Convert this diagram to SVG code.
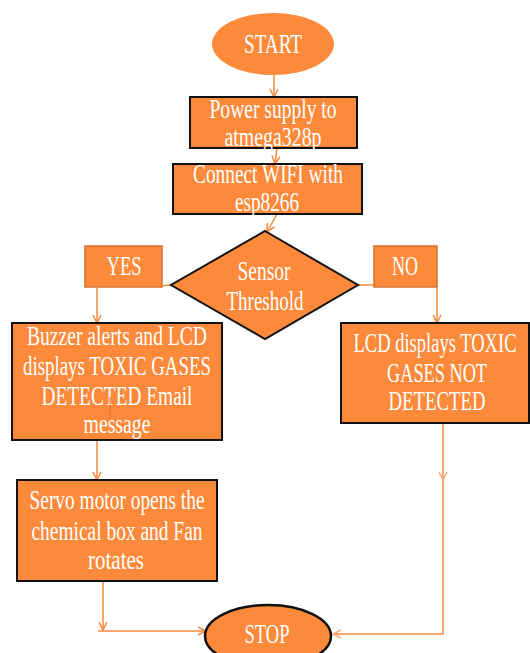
<svg xmlns="http://www.w3.org/2000/svg" width="530" height="653" viewBox="0 0 530 653">
<defs>
<style>
.box{fill:#FD8A3B;stroke:#111;stroke-width:2}
.lbl{fill:#FD8A3B;stroke:#D8702C;stroke-width:1.5}
.t{font-family:"Liberation Serif","Times New Roman",serif;font-size:27px;fill:#fff;text-anchor:middle}
.c{stroke:#F7883F;stroke-width:1.5;fill:none}
.c2{stroke:#F9A672;stroke-width:2;fill:none}
</style>
<marker id="a" viewBox="0 0 10 10" refX="9" refY="5" markerWidth="10" markerHeight="10" markerUnits="userSpaceOnUse" orient="auto">
<path d="M1,1 L9,5 L1,9" fill="none" stroke="#F7883F" stroke-width="1.5"/>
</marker>
<marker id="a2" viewBox="0 0 10 10" refX="9" refY="5" markerWidth="10" markerHeight="10" markerUnits="userSpaceOnUse" orient="auto">
<path d="M1,1 L9,5 L1,9" fill="none" stroke="#F9A672" stroke-width="1.5"/>
</marker>
</defs>
<rect width="530" height="653" fill="#fff"/>
<g id="connectors">
<line class="c" x1="274" y1="75" x2="274" y2="97" marker-end="url(#a)"/>
<line class="c" x1="277" y1="148" x2="275" y2="164" marker-end="url(#a)"/>
<line class="c" x1="277" y1="214" x2="267" y2="232" marker-end="url(#a)"/>
<line class="c" x1="171" y1="285" x2="160" y2="286"/>
<line class="c" x1="97" y1="288" x2="97" y2="323" marker-end="url(#a)"/>
<line class="c" x1="358" y1="285" x2="375" y2="285"/>
<line class="c" x1="437" y1="288" x2="437" y2="323" marker-end="url(#a)"/>
<line class="c" x1="97" y1="440" x2="97" y2="480" marker-end="url(#a)"/>
<line class="c" x1="103" y1="581" x2="103" y2="630" marker-end="url(#a)"/>
<line class="c" x1="98" y1="631" x2="206" y2="631" marker-end="url(#a)"/>
<line class="c2" x1="443" y1="423" x2="443" y2="480" marker-end="url(#a2)"/>
<polyline class="c2" points="443,480 443,634 333,634" marker-end="url(#a2)"/>
</g>
<g id="start">
<ellipse cx="273" cy="44" rx="61" ry="31" fill="#FD8A3B"/>
<text class="t" x="273" y="53" textLength="58" lengthAdjust="spacingAndGlyphs">START</text>
</g>
<g id="power">
<rect class="box" x="190" y="97" width="167" height="51"/>
<text class="t" x="273" y="118" textLength="127" lengthAdjust="spacingAndGlyphs">Power supply to</text>
<text class="t" x="273" y="146" textLength="97" lengthAdjust="spacingAndGlyphs">atmega328p</text>
</g>
<g id="wifi">
<rect class="box" x="173" y="164" width="189" height="50"/>
<text class="t" x="268" y="183" textLength="150" lengthAdjust="spacingAndGlyphs">Connect WIFI with</text>
<text class="t" x="267" y="211" textLength="64" lengthAdjust="spacingAndGlyphs">esp8266</text>
</g>
<g id="decision">
<polygon points="265,231 358,285 265,339 171,285" fill="#FD8A3B" stroke="#111" stroke-width="2"/>
<text class="t" x="264" y="280" textLength="53" lengthAdjust="spacingAndGlyphs">Sensor</text>
<text class="t" x="265" y="310" textLength="77" lengthAdjust="spacingAndGlyphs">Threshold</text>
</g>
<g id="yes">
<rect class="lbl" x="85" y="246" width="77" height="41"/>
<text class="t" x="124" y="275" textLength="35" lengthAdjust="spacingAndGlyphs">YES</text>
</g>
<g id="no">
<rect class="lbl" x="374" y="246" width="63" height="41"/>
<text class="t" x="405" y="275" textLength="26" lengthAdjust="spacingAndGlyphs">NO</text>
</g>
<g id="buzzer">
<rect class="box" x="12" y="323" width="210" height="117"/>
<text class="t" x="117" y="345" textLength="180" lengthAdjust="spacingAndGlyphs">Buzzer alerts and LCD</text>
<text class="t" x="117" y="375" textLength="188" lengthAdjust="spacingAndGlyphs">displays TOXIC GASES</text>
<text class="t" x="117" y="405" textLength="151" lengthAdjust="spacingAndGlyphs">DETECTED Email</text>
<line x1="110" y1="397" x2="110" y2="417" stroke="#E06A20" stroke-width="1"/>
<text class="t" x="117" y="433" textLength="67" lengthAdjust="spacingAndGlyphs">message</text>
</g>
<g id="lcd">
<rect class="box" x="341" y="323" width="188" height="100"/>
<text class="t" x="435" y="352" textLength="163" lengthAdjust="spacingAndGlyphs">LCD displays TOXIC</text>
<text class="t" x="437" y="382" textLength="100" lengthAdjust="spacingAndGlyphs">GASES NOT</text>
<text class="t" x="437" y="410" textLength="97" lengthAdjust="spacingAndGlyphs">DETECTED</text>
</g>
<g id="servo">
<rect class="box" x="17" y="480" width="200" height="101"/>
<text class="t" x="117" y="509" textLength="175" lengthAdjust="spacingAndGlyphs">Servo motor opens the</text>
<text class="t" x="117" y="540" textLength="171" lengthAdjust="spacingAndGlyphs">chemical box and Fan</text>
<text class="t" x="116" y="569" textLength="56" lengthAdjust="spacingAndGlyphs">rotates</text>
</g>
<g id="stop">
<ellipse cx="268" cy="636" rx="63" ry="31" fill="#FD8A3B" stroke="#111" stroke-width="2.5"/>
<text class="t" x="267" y="643" textLength="45" lengthAdjust="spacingAndGlyphs">STOP</text>
</g>
</svg>
